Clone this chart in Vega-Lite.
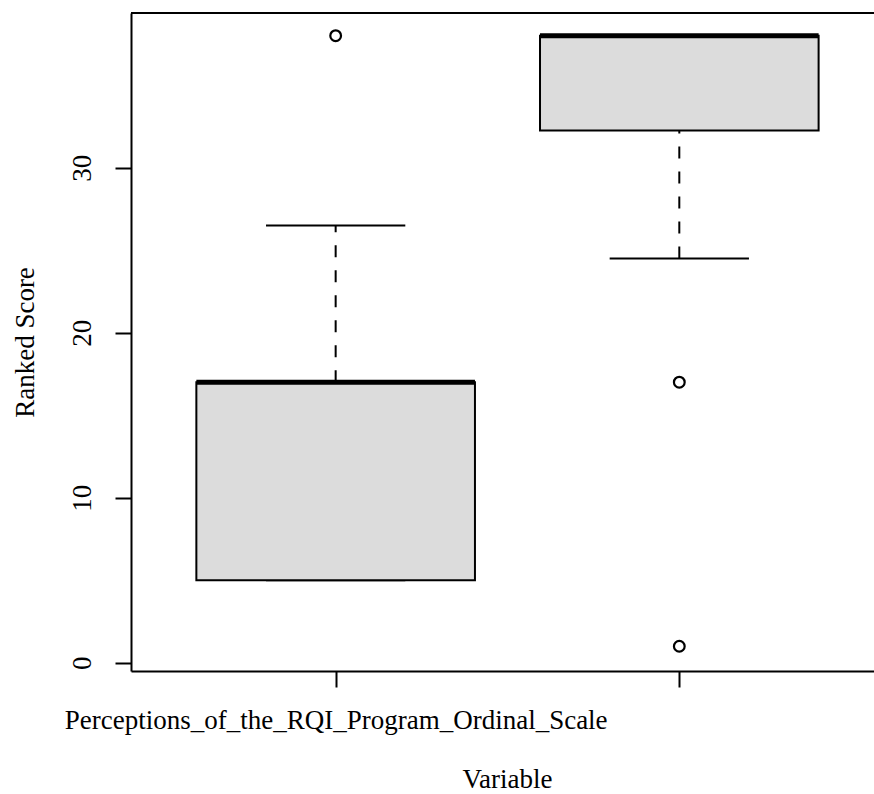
{
  "$schema": "https://vega.github.io/schema/vega-lite/v6.json",
  "autosize": "none",
  "padding": {"left": 131, "top": 13, "right": 0, "bottom": 123},
  "width": 743,
  "height": 658,
  "background": "white",
  "config": {
    "view": {"stroke": null},
    "font": "Liberation Serif",
    "axis": {
      "labelFont": "Liberation Serif",
      "titleFont": "Liberation Serif",
      "labelColor": "black",
      "titleColor": "black",
      "domainColor": "black",
      "tickColor": "black",
      "domainWidth": 2,
      "tickWidth": 2,
      "tickSize": 16,
      "grid": false,
      "labelFontSize": 27,
      "titleFontSize": 27,
      "titleFontWeight": "normal",
      "labelLimit": 0
    }
  },
  "datasets": {
    "boxes": [
      {"variable": "Perceptions_of_the_RQI_Program_Ordinal_Scale", "pos": 1, "lower": 5, "q1": 5, "median": 17, "q3": 17, "upper": 26.5},
      {"variable": "", "pos": 2, "lower": 24.5, "q1": 32.25, "median": 38, "q3": 38, "upper": 38}
    ],
    "outliers": [
      {"pos": 1, "value": 38},
      {"pos": 2, "value": 17},
      {"pos": 2, "value": 1}
    ],
    "frame": [{"top": 39.375}]
  },
  "layer": [
    {
      "data": {"name": "boxes"},
      "mark": {"type": "rule", "strokeDash": [12, 13], "strokeWidth": 2, "color": "black"},
      "encoding": {
        "x": {
          "field": "pos", "type": "quantitative",
          "scale": {"domain": [0.419, 2.552], "nice": false, "zero": false},
          "axis": {
            "values": [1, 2],
            "labelExpr": "datum.value == 1 ? 'Perceptions_of_the_RQI_Program_Ordinal_Scale' : ''",
            "labelBaseline": "alphabetic",
            "labelPadding": 41,
            "labelFlush": false,
            "labelOverlap": false,
            "title": "Variable",
            "titleX": 376,
            "titleY": 116,
            "titleBaseline": "alphabetic",
            "titleAlign": "center"
          }
        },
        "y": {
          "field": "q3", "type": "quantitative",
          "scale": {"domain": [-0.503, 39.375], "nice": false, "zero": false},
          "axis": {
            "values": [0, 10, 20, 30],
            "labelAngle": -90,
            "labelAlign": "center",
            "labelBaseline": "alphabetic",
            "labelPadding": 25,
            "title": "Ranked Score",
            "titleAngle": -90,
            "titleX": -98,
            "titleY": 329,
            "titleAlign": "center",
            "titleBaseline": "alphabetic"
          }
        },
        "y2": {"field": "upper"}
      }
    },
    {
      "data": {"name": "boxes"},
      "mark": {"type": "rule", "strokeDash": [12, 13], "strokeWidth": 2, "color": "black"},
      "encoding": {
        "x": {"field": "pos", "type": "quantitative"},
        "y": {"field": "lower", "type": "quantitative"},
        "y2": {"field": "q1"}
      }
    },
    {
      "data": {"name": "boxes"},
      "mark": {"type": "tick", "orient": "horizontal", "size": 139.3, "thickness": 2, "color": "black", "opacity": 1},
      "encoding": {
        "x": {"field": "pos", "type": "quantitative"},
        "y": {"field": "upper", "type": "quantitative"}
      }
    },
    {
      "data": {"name": "boxes"},
      "mark": {"type": "tick", "orient": "horizontal", "size": 139.3, "thickness": 2, "color": "black", "opacity": 1},
      "encoding": {
        "x": {"field": "pos", "type": "quantitative"},
        "y": {"field": "lower", "type": "quantitative"}
      }
    },
    {
      "data": {"name": "boxes"},
      "mark": {"type": "bar", "width": 278.6, "fill": "#dcdcdc", "stroke": "black", "strokeWidth": 2, "opacity": 1},
      "encoding": {
        "x": {"field": "pos", "type": "quantitative"},
        "y": {"field": "q1", "type": "quantitative"},
        "y2": {"field": "q3"}
      }
    },
    {
      "data": {"name": "boxes"},
      "mark": {"type": "tick", "orient": "horizontal", "size": 278.6, "thickness": 5, "color": "black", "opacity": 1},
      "encoding": {
        "x": {"field": "pos", "type": "quantitative"},
        "y": {"field": "median", "type": "quantitative"}
      }
    },
    {
      "data": {"name": "outliers"},
      "mark": {"type": "point", "shape": "circle", "filled": false, "stroke": "black", "strokeWidth": 2.2, "size": 115, "opacity": 1},
      "encoding": {
        "x": {"field": "pos", "type": "quantitative"},
        "y": {"field": "value", "type": "quantitative"}
      }
    },
    {
      "data": {"name": "frame"},
      "mark": {"type": "rule", "color": "black", "strokeWidth": 2},
      "encoding": {
        "y": {"field": "top", "type": "quantitative"}
      }
    }
  ]
}
